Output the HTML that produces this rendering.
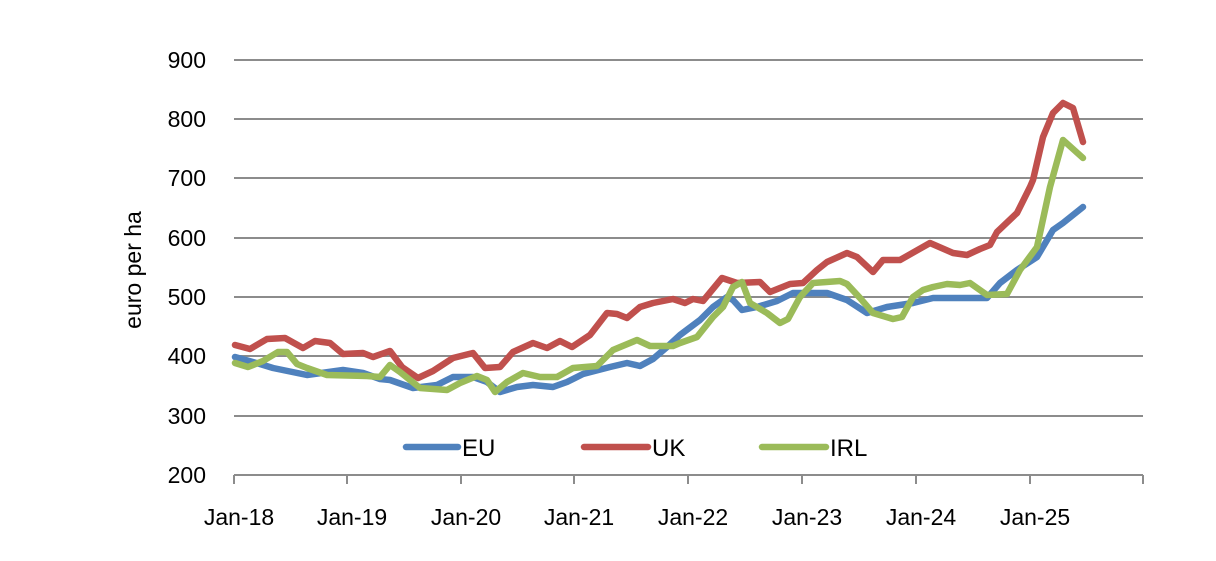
<!DOCTYPE html>
<html><head><style>
html,body{margin:0;padding:0;background:#fff;}
svg text{font-family:"Liberation Sans",sans-serif;fill:#000;}
</style></head><body>
<svg width="1216" height="556" xmlns="http://www.w3.org/2000/svg">
<g stroke="#8c8c8c" stroke-width="2">
<line x1="234" y1="60" x2="1143" y2="60"/>
<line x1="234" y1="119" x2="1143" y2="119"/>
<line x1="234" y1="178" x2="1143" y2="178"/>
<line x1="234" y1="238" x2="1143" y2="238"/>
<line x1="234" y1="297" x2="1143" y2="297"/>
<line x1="234" y1="356" x2="1143" y2="356"/>
<line x1="234" y1="416" x2="1143" y2="416"/>
<line x1="234" y1="475" x2="1143" y2="475"/>
<line x1="234" y1="475" x2="234" y2="484"/>
<line x1="347" y1="475" x2="347" y2="484"/>
<line x1="461" y1="475" x2="461" y2="484"/>
<line x1="574" y1="475" x2="574" y2="484"/>
<line x1="688" y1="475" x2="688" y2="484"/>
<line x1="802" y1="475" x2="802" y2="484"/>
<line x1="916" y1="475" x2="916" y2="484"/>
<line x1="1030" y1="475" x2="1030" y2="484"/>
<line x1="1143" y1="475" x2="1143" y2="484"/>
</g>
<g font-size="23" text-anchor="end">
<text x="206" y="68">900</text>
<text x="206" y="127">800</text>
<text x="206" y="186">700</text>
<text x="206" y="246">600</text>
<text x="206" y="305">500</text>
<text x="206" y="364">400</text>
<text x="206" y="424">300</text>
<text x="206" y="483">200</text>
</g>
<g font-size="23" text-anchor="middle">
<text x="239" y="525">Jan-18</text>
<text x="352" y="525">Jan-19</text>
<text x="466" y="525">Jan-20</text>
<text x="579" y="525">Jan-21</text>
<text x="693" y="525">Jan-22</text>
<text x="807" y="525">Jan-23</text>
<text x="921" y="525">Jan-24</text>
<text x="1035" y="525">Jan-25</text>
</g>
<text font-size="23" text-anchor="middle" transform="translate(141,270) rotate(-90)">euro per ha</text>
<g fill="none" stroke-width="6.5" stroke-linejoin="round" stroke-linecap="round">
<polyline stroke="#4f81bd" points="235,357 260,364 273,368 307,375 343,370 363,373 380,379 390,380 413,388 437,385 453,377 473,377 487,382 500,392 517,387 533,385 553,387 567,382 583,374 610,367 627,363 640,366 653,359 667,347 680,335 700,320 713,307 727,297 733,300 742,310 757,307 777,301 793,293 827,293 847,300 867,313 887,307 913,303 933,298 970,298 987,298 1000,283 1017,270 1037,257 1053,230 1063,223 1083,207"/>
<polyline stroke="#c0504d" points="235,345 250,349 267,339 285,338 303,348 315,341 330,343 343,354 363,353 373,357 390,351 402,367 418,378 433,371 453,358 473,353 485,368 500,367 513,352 533,343 547,348 560,341 572,347 590,335 607,313 617,314 627,318 640,307 653,303 673,299 685,303 693,299 703,301 722,278 737,283 760,282 770,292 790,284 803,283 817,270 827,262 847,253 857,257 873,272 883,260 900,260 930,243 953,253 967,255 980,249 990,245 997,232 1017,213 1030,187 1033,180 1043,137 1053,113 1063,103 1073,108 1083,142"/>
<polyline stroke="#9bbb59" points="235,363 248,367 263,361 278,352 287,352 297,364 307,368 327,375 367,376 380,377 390,365 400,372 420,388 447,390 460,383 477,376 487,380 495,392 507,382 523,373 540,377 557,377 573,368 597,366 613,350 637,340 650,346 673,346 680,343 697,337 713,317 723,307 733,287 742,282 750,303 767,313 780,323 788,319 800,297 813,283 840,281 847,284 860,298 873,313 893,319 902,317 913,297 923,290 933,287 947,284 960,285 970,283 987,295 1007,294 1020,270 1037,247 1050,187 1063,140 1083,158"/>
<line stroke="#4f81bd" x1="406" y1="447" x2="458" y2="447"/>
<line stroke="#c0504d" x1="584" y1="447" x2="648" y2="447"/>
<line stroke="#9bbb59" x1="762" y1="447" x2="826" y2="447"/>
</g>
<g font-size="24">
<text x="462" y="456">EU</text>
<text x="652" y="456">UK</text>
<text x="830" y="456">IRL</text>
</g>
</svg>
</body></html>
